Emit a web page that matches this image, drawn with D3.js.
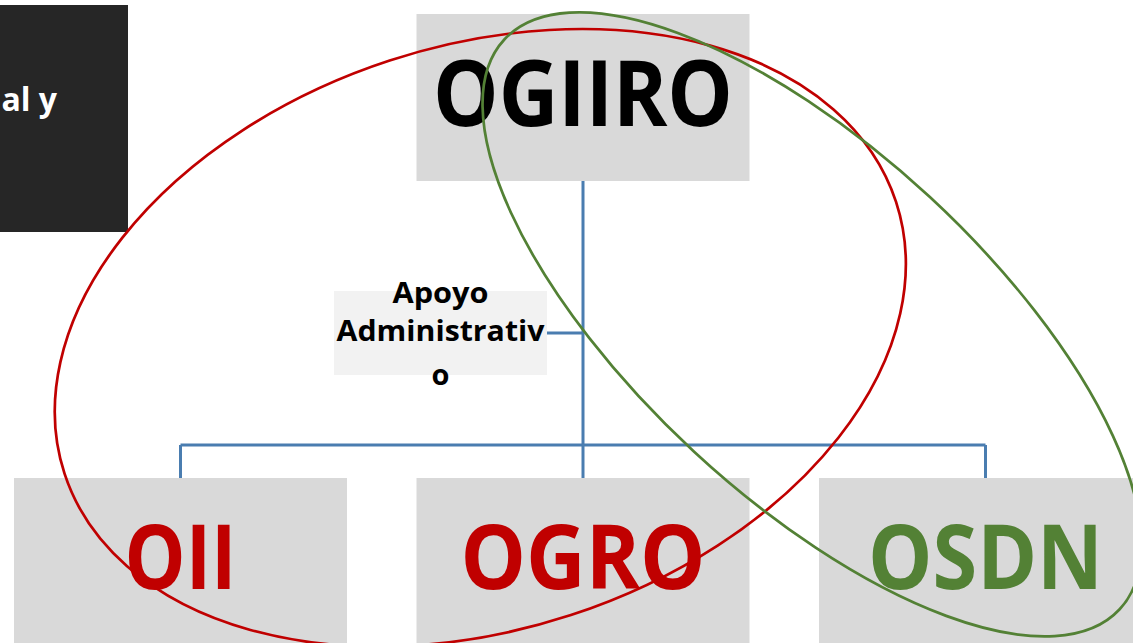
<!DOCTYPE html>
<html>
<head>
<meta charset="utf-8">
<script src="https://cdn.jsdelivr.net/npm/d3@7"></script>
<style>
  html, body { margin: 0; padding: 0; background: #fff; overflow: hidden; }
  svg { display: block; font-family: "Open Sans", "DejaVu Sans", sans-serif; font-weight: 700; }
</style>
</head>
<body>
<svg id="chart"></svg>
<script>
// org chart content
const rootUnit = ["OGIIRO"];
const units = ["OII", "OGRO", "OSDN"];
const unitColors = ["#c00000", "#c00000", "#538135"];
const staffLines = ["Apoyo", "Administrativ", "o"];
const sideText = ["al y"];

const width = 1133;
const height = 643;
const boxW = 333;
const lineColor = "#4a7db0";

const svg = d3
  .select("#chart")
  .attr("width", width)
  .attr("height", height)
  .attr("viewBox", `0 0 ${width} ${height}`);

const xScale = d3.scalePoint().domain(units).range([180.5, 985.5]);
const rootX = xScale("OGRO");

// dark side panel (cut off on the left)
svg.append("rect").attr("x", 0).attr("y", 5).attr("width", 128).attr("height", 227).attr("fill", "#262626");
svg
  .append("text")
  .text(sideText[0])
  .attr("x", 57)
  .attr("y", 111)
  .attr("fill", "#fff")
  .attr("font-size", 32)
  .style("text-anchor", "end");

// connectors
const links = svg.append("g").attr("fill", "none").attr("stroke", lineColor).attr("stroke-width", 3);
links.append("line").attr("x1", rootX).attr("x2", rootX).attr("y1", 181).attr("y2", 445);
links.append("line").attr("x1", xScale(units[0])).attr("x2", xScale(units[units.length - 1])).attr("y1", 445).attr("y2", 445);
links
  .selectAll("line.drop")
  .data(units)
  .enter()
  .append("line")
  .attr("class", "drop")
  .attr("x1", (d) => xScale(d))
  .attr("x2", (d) => xScale(d))
  .attr("y1", 445)
  .attr("y2", 478);
links.append("line").attr("x1", 547).attr("x2", rootX).attr("y1", 333).attr("y2", 333);

// root box
svg.append("rect").attr("x", rootX - boxW / 2).attr("y", 14).attr("width", boxW).attr("height", 167).attr("fill", "#d9d9d9");
svg
  .append("text")
  .text(rootUnit[0])
  .attr("x", rootX)
  .attr("y", 126)
  .attr("font-size", 92)
  .attr("fill", "#000")
  .attr("textLength", 300)
  .attr("lengthAdjust", "spacingAndGlyphs")
  .style("text-anchor", "middle");

// staff box
svg.append("rect").attr("x", 334).attr("y", 291).attr("width", 213).attr("height", 84).attr("fill", "#f2f2f2");
const staffY = [303, 341, 385];
const staffLen = [96, 208, 0];
svg
  .selectAll("text.staff")
  .data(staffLines)
  .enter()
  .append("text")
  .attr("class", "staff")
  .text((d) => d)
  .attr("x", 440.5)
  .attr("y", (d, i) => staffY[i])
  .attr("font-size", 29)
  .attr("fill", "#000")
  .each(function (d, i) {
    if (staffLen[i]) d3.select(this).attr("textLength", staffLen[i]).attr("lengthAdjust", "spacingAndGlyphs");
  })
  .style("text-anchor", "middle");

// unit boxes
const unitWidths = [112, 245, 235];
const unitG = svg
  .selectAll("g.unit")
  .data(units)
  .enter()
  .append("g")
  .attr("class", "unit")
  .attr("transform", (d) => `translate(${xScale(d)}, 478)`);

unitG.append("rect").attr("x", -boxW / 2).attr("y", 0).attr("width", boxW).attr("height", 170).attr("fill", "#d9d9d9");
unitG
  .append("text")
  .text((d) => d)
  .attr("x", 0)
  .attr("y", 111)
  .attr("font-size", 90)
  .attr("fill", (d, i) => unitColors[i])
  .attr("textLength", (d, i) => unitWidths[i])
  .attr("lengthAdjust", "spacingAndGlyphs")
  .style("text-anchor", "middle");

// grouping ellipses
const groups = [
  { cx: 480.3, cy: 337.8, rx: 437.4, ry: 291.7, rot: -18.1, color: "#c00000" },
  { cx: 812, cy: 324.4, rx: 419.3, ry: 173.5, rot: 42.8, color: "#538135" },
];

svg
  .selectAll("ellipse")
  .data(groups)
  .enter()
  .append("ellipse")
  .attr("cx", (d) => d.cx)
  .attr("cy", (d) => d.cy)
  .attr("rx", (d) => d.rx)
  .attr("ry", (d) => d.ry)
  .attr("transform", (d) => `rotate(${d.rot}, ${d.cx}, ${d.cy})`)
  .attr("fill", "none")
  .attr("stroke", (d) => d.color)
  .attr("stroke-width", 2.7);
</script>
</body>
</html>
